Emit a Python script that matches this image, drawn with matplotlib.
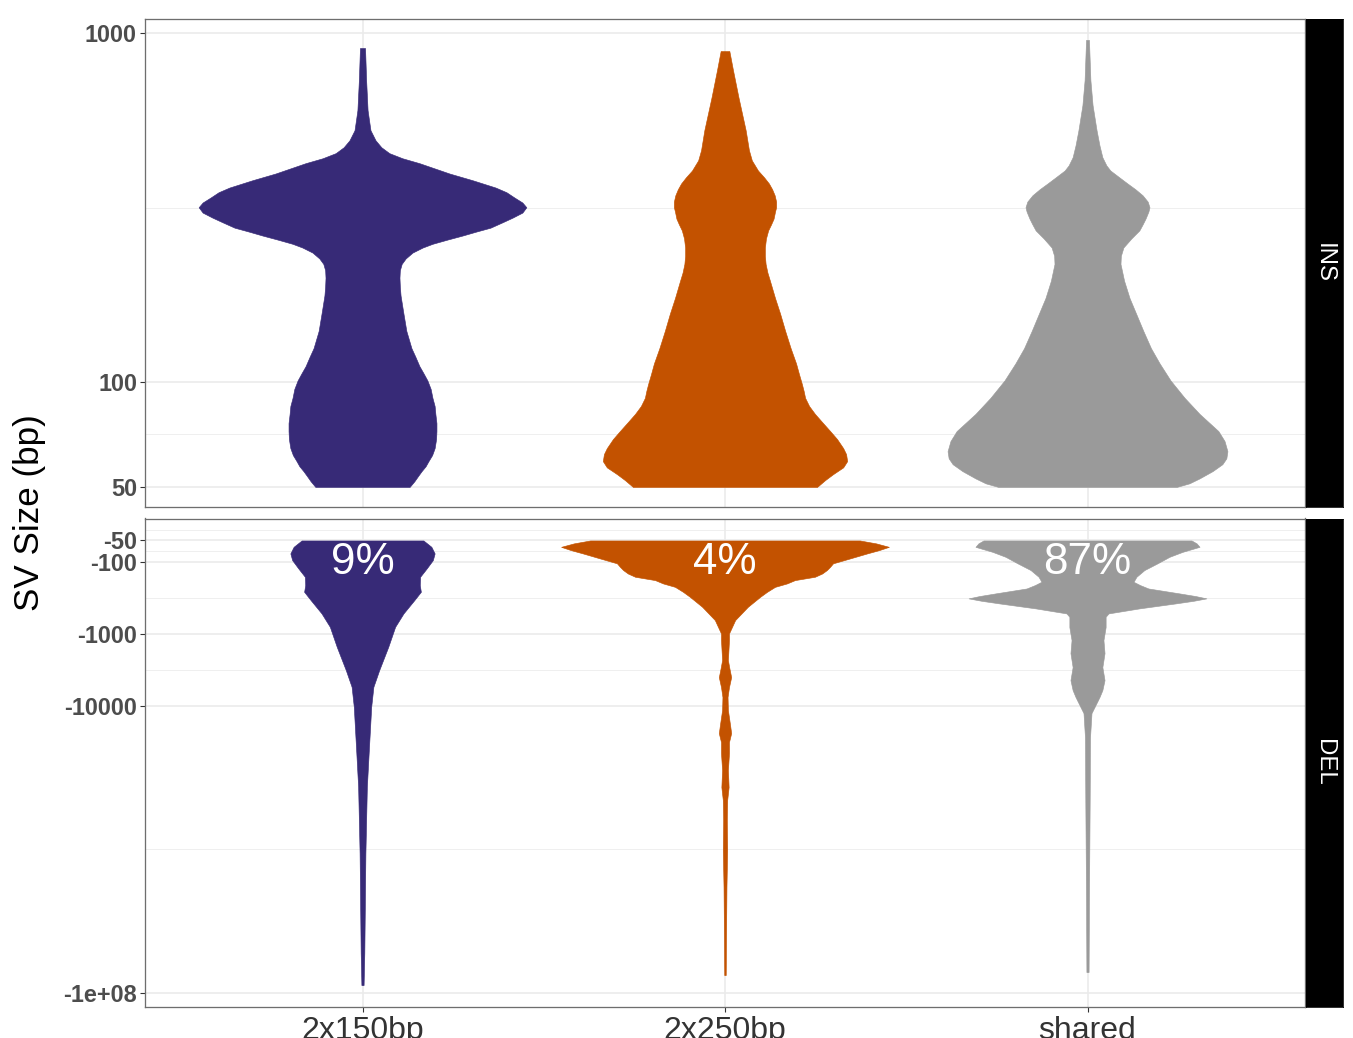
import numpy as np
import matplotlib
matplotlib.use("Agg")
import matplotlib.pyplot as plt
from matplotlib.ticker import NullFormatter

plt.rcParams["font.family"] = ["Liberation Sans", "DejaVu Sans"]

groups = ["2x150bp", "2x250bp", "shared"]
fills = ["#372A77", "#C35200", "#9A9A9A"]
del_pct = ["9%", "4%", "87%"]

# violin outlines: SV size (bp) and half-width of the violin (x units) at that size
ins_150_bp = [907, 734, 602, 563, 527, 493, 471, 453, 438, 424, 396, 379, 361, 350, 338, 327, 317, 306,
              296, 287, 277, 270, 263, 256, 249, 243, 235, 226, 218, 209, 199, 188, 177, 157, 140, 125,
              118, 111, 106, 101, 95.5, 90, 85.3, 81, 76.2, 72.3, 68.6, 64.6, 61.7, 59.3, 57.3, 55.5,
              53.7, 51.9, 50]
ins_150_w = [0.007, 0.010, 0.014, 0.018, 0.022, 0.036, 0.052, 0.074, 0.110, 0.157, 0.240, 0.303, 0.367,
             0.397, 0.419, 0.441, 0.452, 0.441, 0.414, 0.386, 0.353, 0.314, 0.276, 0.234, 0.193, 0.166,
             0.138, 0.119, 0.108, 0.103, 0.102, 0.103, 0.105, 0.113, 0.121, 0.135, 0.146, 0.157, 0.168,
             0.179, 0.188, 0.193, 0.199, 0.201, 0.204, 0.204, 0.203, 0.199, 0.192, 0.182, 0.174, 0.163,
             0.153, 0.143, 0.130]
ins_250_bp = [889, 784, 656, 527, 462, 432, 404, 386, 371, 357, 343, 329, 317, 308, 294, 283, 272, 258,
              243, 230, 218, 206, 195, 174, 157, 140, 125, 113, 105.4, 98.7, 94.2, 90, 85.3, 81, 76.7,
              72.3, 68.6, 64.6, 62.1, 59.3, 56.9, 54.4, 52.3, 50]
ins_250_w = [0.012, 0.022, 0.037, 0.057, 0.066, 0.074, 0.091, 0.108, 0.121, 0.130, 0.137, 0.141, 0.141,
             0.138, 0.134, 0.127, 0.119, 0.113, 0.110, 0.110, 0.112, 0.117, 0.124, 0.138, 0.152, 0.166,
             0.181, 0.196, 0.204, 0.212, 0.217, 0.221, 0.232, 0.248, 0.268, 0.290, 0.309, 0.326, 0.334,
             0.337, 0.326, 0.298, 0.276, 0.254]
ins_sh_bp = [957, 838, 734, 622, 527, 477, 441, 418, 404, 386, 371, 357, 343, 329, 317, 308, 294, 283,
             272, 258, 243, 230, 218, 195, 174, 157, 140, 125, 113, 101, 90, 81, 72.3, 67.7, 63.3, 60.4,
             58.1, 55.5, 52.9, 51.2, 50]
ins_sh_w = [0.004, 0.006, 0.008, 0.014, 0.025, 0.033, 0.041, 0.052, 0.063, 0.088, 0.110, 0.132, 0.152,
            0.166, 0.171, 0.168, 0.160, 0.152, 0.143, 0.121, 0.099, 0.092, 0.091, 0.101, 0.116, 0.134,
            0.154, 0.175, 0.199, 0.229, 0.268, 0.309, 0.361, 0.378, 0.386, 0.383, 0.372, 0.345, 0.309,
            0.281, 0.246]

# deletions, sizes given as absolute bp
del_150_bp = [50, 61.3, 75.7, 93.8, 122.5, 160, 209, 259, 338, 518, 796, 1511, 3189, 5448, 10330, 15850,
              45610, 135600, 390800, 1.125e6, 3.35e6, 9.64e6, 2.77e7, 7.74e7]
del_150_w = [0.168, 0.190, 0.199, 0.194, 0.177, 0.159, 0.158, 0.161, 0.143, 0.113, 0.090, 0.071, 0.046,
             0.030, 0.024, 0.022, 0.017, 0.012, 0.010, 0.008, 0.007, 0.006, 0.005, 0.003]
del_250_bp = [50, 54.9, 61.3, 68.1, 75.7, 88.8, 104, 116, 129, 144, 160, 178, 198, 221, 259, 304, 419,
              641, 984, 1219, 2313, 2990, 3994, 5498, 7568, 11480, 18570, 24040, 32060, 45610, 78700,
              135600, 205600, 390800, 1.02e6, 3.35e6, 1.33e7, 5.62e7]
del_250_w = [0.372, 0.417, 0.452, 0.425, 0.392, 0.345, 0.298, 0.290, 0.281, 0.268, 0.248, 0.193, 0.171,
             0.138, 0.116, 0.097, 0.063, 0.028, 0.011, 0.011, 0.008, 0.012, 0.017, 0.011, 0.007, 0.008,
             0.014, 0.017, 0.011, 0.011, 0.008, 0.010, 0.006, 0.005, 0.006, 0.004, 0.003, 0.002]
del_sh_bp = [50, 54.9, 61.3, 72, 84.4, 104, 129, 160, 188, 209, 233, 273, 297, 320, 346, 376, 441, 518,
             577, 641, 803, 1219, 1849, 2897, 4395, 6053, 7568, 9790, 12660, 27310, 205600, 5.08e6, 5.1e7]
del_sh_w = [0.287, 0.301, 0.309, 0.262, 0.226, 0.193, 0.157, 0.135, 0.127, 0.145, 0.168, 0.254, 0.298,
            0.328, 0.292, 0.243, 0.143, 0.058, 0.050, 0.050, 0.050, 0.044, 0.047, 0.041, 0.047, 0.041,
            0.033, 0.022, 0.011, 0.007, 0.006, 0.004, 0.003]

ins = [(ins_150_bp, ins_150_w), (ins_250_bp, ins_250_w), (ins_sh_bp, ins_sh_w)]
dels = [(del_150_bp, del_150_w), (del_250_bp, del_250_w), (del_sh_bp, del_sh_w)]

W, H = 1353, 1038
fig = plt.figure(figsize=(W / 72, H / 72), dpi=72)
fig.patch.set_facecolor("white")
ax_ins = fig.add_axes([145 / W, 1 - 507 / H, 1160 / W, 487.7 / H])
ax_del = fig.add_axes([145 / W, 1 - 1006.7 / H, 1160 / W, 488.2 / H])

for ax, data in [(ax_ins, ins), (ax_del, dels)]:
    for i, (bp, w) in enumerate(data):
        x = i + 1
        bp, w = np.asarray(bp, float), np.asarray(w, float)
        ax.fill_betweenx(bp, x - w, x + w, color=fills[i], lw=0.6, ec=fills[i], zorder=3)
    ax.set_yscale("log")
    ax.set_xlim(0.4, 3.6)
    ax.set_xticks([1, 2, 3])
    ax.set_axisbelow(True)
    ax.grid(which="major", color="#EBEBEB", lw=1.6)
    ax.grid(which="minor", axis="y", color="#EBEBEB", lw=0.8)
    for s in ax.spines.values():
        s.set_color("#6E6E6E")
        s.set_linewidth(1.3)
    ax.tick_params(axis="y", which="major", length=5, width=1.1, color="#333333", pad=3,
                   labelsize=23.5, labelcolor="#4D4D4D")
    ax.tick_params(axis="y", which="minor", length=0)
    ax.yaxis.set_minor_formatter(NullFormatter())

# INS panel
ax_ins.set_ylim(10 ** 1.6414, 10 ** 3.040)
ax_ins.set_yticks([50, 100, 1000])
ax_ins.set_yticklabels(["50", "100", "1000"], fontweight="bold")
ax_ins.set_yticks([np.sqrt(50 * 100), np.sqrt(100 * 1000)], minor=True)
ax_ins.yaxis.set_minor_formatter(NullFormatter())
ax_ins.tick_params(axis="x", length=0, labelbottom=False)

# DEL panel, magnitude grows downwards
ax_del.set_ylim(10 ** 8.19, 10 ** 1.393)
ax_del.set_yticks([50, 100, 1000, 1e4, 1e8])
ax_del.set_yticklabels(["-50", "-100", "-1000", "-10000", "-1e+08"], fontweight="bold")
ax_del.set_yticks([50 / np.sqrt(2), np.sqrt(50 * 100), np.sqrt(100 * 1000), np.sqrt(1e3 * 1e4), 1e6],
                  minor=True)
ax_del.yaxis.set_minor_formatter(NullFormatter())
ax_del.set_xticklabels(groups)
ax_del.tick_params(axis="x", length=5, width=1.1, color="#333333", pad=4, labelsize=32,
                   labelcolor="#333333")
for i, p in enumerate(del_pct):
    ax_del.text(i + 1, 100, p, color="white", fontsize=44, ha="center", va="center", zorder=5)

# facet strips on the right
for ax, lab in [(ax_ins, "INS"), (ax_del, "DEL")]:
    pos = ax.get_position()
    st = fig.add_axes([1305.7 / W, pos.y0, 37 / W, pos.height])
    st.set_facecolor("black")
    st.set_xticks([])
    st.set_yticks([])
    for s in st.spines.values():
        s.set_color("black")
    st.text(0.5, 0.5, lab, color="white", fontsize=24, rotation=-90, ha="center", va="center",
            transform=st.transAxes)

fig.text(30 / W, 1 - 513 / H, "SV Size (bp)", rotation=90, fontsize=35, ha="center", va="center")

fig.savefig("out.png", dpi=72, facecolor="white")
